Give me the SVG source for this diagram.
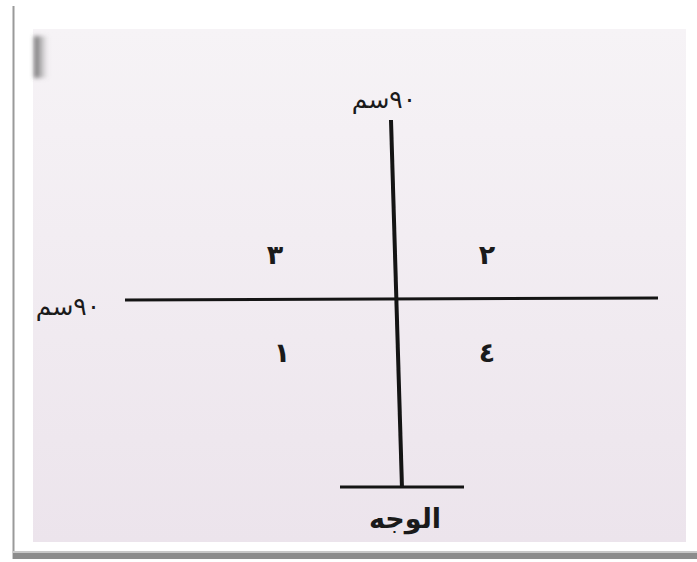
<svg xmlns="http://www.w3.org/2000/svg" width="697" height="562" viewBox="0 0 697 562">
<defs>
<style>
.ln{stroke:#141414;fill:none;stroke-linecap:butt}
.lbl{font-family:"DejaVu Sans","Noto Sans",sans-serif;fill:#1a1a1a;text-anchor:middle}
.num{font-family:"DejaVu Sans","Noto Sans",sans-serif;font-size:27px;font-weight:bold;fill:#1a1a1a;text-anchor:middle}
</style>
<linearGradient id="smudge" x1="0" y1="0" x2="1" y2="0">
<stop offset="0" stop-color="#555" stop-opacity="0.9"/>
<stop offset="1" stop-color="#888" stop-opacity="0"/>
</linearGradient>
<linearGradient id="page" x1="0" y1="0" x2="0" y2="1">
<stop offset="0" stop-color="#f6f3f6"/>
<stop offset="1" stop-color="#ece4ec"/>
</linearGradient>
<filter id="blur" x="-50%" y="-50%" width="200%" height="200%"><feGaussianBlur stdDeviation="2"/></filter>
</defs>
<rect x="0" y="0" width="697" height="562" fill="#ffffff"/>
<g id="frame">
<rect x="13" y="6" width="684" height="553" fill="#ffffff"/>
<line x1="13.5" y1="6" x2="13.5" y2="559" stroke="#9a9a9a" stroke-width="2"/>
<rect x="13" y="553" width="684" height="6" fill="#8c8c8c"/>
<rect x="13" y="551" width="684" height="2" fill="#c8c8c8"/>
<rect x="33" y="29" width="653" height="513" fill="url(#page)"/>
<rect x="34" y="36" width="14" height="42" fill="url(#smudge)" filter="url(#blur)"/>
</g>
<g id="connectors">
<line class="ln" x1="391" y1="120" x2="402" y2="488" stroke-width="4"/>
<line class="ln" x1="125" y1="300" x2="658" y2="298" stroke-width="3"/>
<line class="ln" x1="340" y1="487" x2="464" y2="487" stroke-width="3"/>
</g>
<g id="label-top">
<text class="lbl" x="384" y="108" font-size="25" direction="rtl">٩٠سم</text>
</g>
<g id="label-left">
<text class="lbl" x="68" y="315" font-size="25" direction="rtl">٩٠سم</text>
</g>
<g id="q3"><text class="num" x="275" y="264">٣</text></g>
<g id="q2"><text class="num" x="487" y="264">٢</text></g>
<g id="q1"><text class="num" x="282" y="362">١</text></g>
<g id="q4"><text class="num" x="487" y="362">٤</text></g>
<g id="label-bottom">
<text class="lbl" x="405" y="528" font-size="27" font-weight="bold">الوجه</text>
</g>
</svg>
